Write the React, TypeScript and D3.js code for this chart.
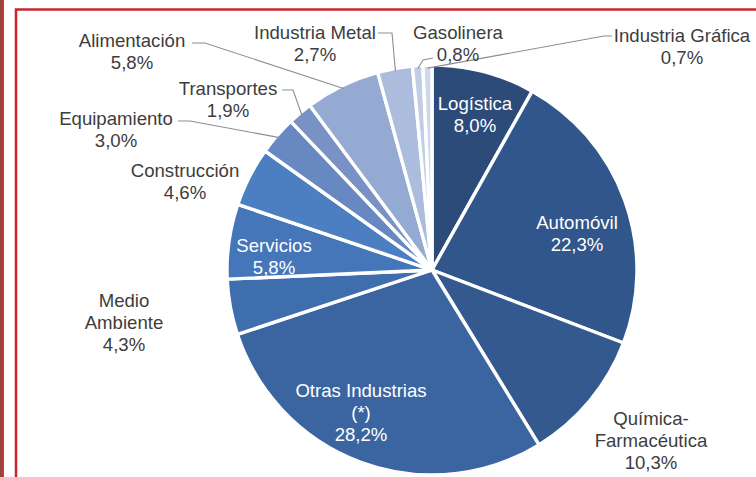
import React from "react";
import * as d3 from "d3";

const categories = [
  "Logística", "Automóvil", "Química-Farmacéutica", "Otras Industrias", "Medio Ambiente",
  "Servicios", "Construcción", "Equipamiento", "Transportes", "Alimentación",
  "Industria Metal", "Gasolinera", "Industria Gráfica",
];
const values = [8.0, 22.3, 10.3, 28.2, 4.3, 5.8, 4.6, 3.0, 1.9, 5.8, 2.7, 0.8, 0.7];
const labelLines = [
  ["Logística"], ["Automóvil"], ["Química-", "Farmacéutica"], ["Otras Industrias", "(*)"],
  ["Medio", "Ambiente"], ["Servicios"], ["Construcción"], ["Equipamiento"], ["Transportes"],
  ["Alimentación"], ["Industria Metal"], ["Gasolinera"], ["Industria Gráfica"],
];

const colors = [
  "#2c4b79", "#30568b", "#34598f", "#3b65a1", "#3f6eae", "#4576b9", "#4c7ec2",
  "#6888c2", "#7892c6", "#95aad2", "#abbcdc", "#c1cde5", "#cfd8eb",
];

// layout: label center x, first line center y, inside (white) flag, leader path prefix
const layout: { x: number; y: number; inside: boolean; leader?: [number, number][] }[] = [
  { x: 475, y: 103, inside: true },
  { x: 577, y: 222, inside: true },
  { x: 651, y: 418, inside: false },
  { x: 361, y: 390, inside: true },
  { x: 124, y: 300, inside: false },
  { x: 274, y: 245, inside: true },
  { x: 185, y: 170, inside: false },
  { x: 116, y: 118, inside: false, leader: [[178, 121], [190, 121]] },
  { x: 228, y: 88, inside: false, leader: [[282, 90], [293, 90]] },
  { x: 132, y: 40, inside: false, leader: [[192, 43], [205, 43]] },
  { x: 315, y: 32, inside: false, leader: [[378, 33], [392, 33]] },
  { x: 458, y: 32, inside: false, leader: [[433, 58], [423, 60]] },
  { x: 682, y: 35, inside: false, leader: [[612, 36], [604, 36]] },
];

const W = 756, H = 477;
const cx = 432, cy = 270, R = 205;
const fmt = (v: number) => d3.format(".1f")(v).replace(".", ",") + "%";

export default function App() {
  const pie = d3.pie<number>().sort(null).value((d) => d);
  const arcs = pie(values);
  const arc = d3.arc<d3.PieArcDatum<number>>().innerRadius(0).outerRadius(R);
  const edge = d3.arc<d3.PieArcDatum<number>>().innerRadius(R * 0.985).outerRadius(R * 0.985);
  const line = d3.line();
  return (
    <svg width={W} height={H} style={{ position: "absolute", left: 0, top: 0, background: "#fff" }}
      fontFamily="'Liberation Sans', Arial, sans-serif">
      <rect x={0} y={0} width={W} height={H} fill="#fff" />
      <rect x={0} y={0} width={2} height={H} fill="#8a4a3c" />
      <rect x={2} y={0} width={2} height={H} fill="#c23a36" />
      <path d={`M16,${H} V9.5 H${W}`} fill="none" stroke="#c8262c" strokeWidth={2.5} />
      <g transform={`translate(${cx},${cy})`}>
        {arcs.map((a, i) => (
          <path key={categories[i]} d={arc(a) || ""} fill={colors[i]} stroke="#fff" strokeWidth={3.4}
            strokeLinejoin="round" />
        ))}
      </g>
      {arcs.map((a, i) => {
        const l = layout[i];
        if (!l.leader) return null;
        const [ex, ey] = edge.centroid(a);
        const pts: [number, number][] = [...l.leader, [cx + ex, cy + ey]];
        return <path key={"l" + i} d={line(pts) || ""} fill="none" stroke="#8e8e8e" strokeWidth={1.1} />;
      })}
      {arcs.map((a, i) => {
        const l = layout[i];
        const lines = [...labelLines[i], fmt(values[i])];
        return (
          <text key={"t" + i} textAnchor="middle" fontSize={18.6} fill={l.inside ? "#ffffff" : "#3d3d3d"}>
            {lines.map((s, j) => (
              <tspan key={j} x={l.x} y={l.y + j * 22} dominantBaseline="central">{s}</tspan>
            ))}
          </text>
        );
      })}
    </svg>
  );
}
